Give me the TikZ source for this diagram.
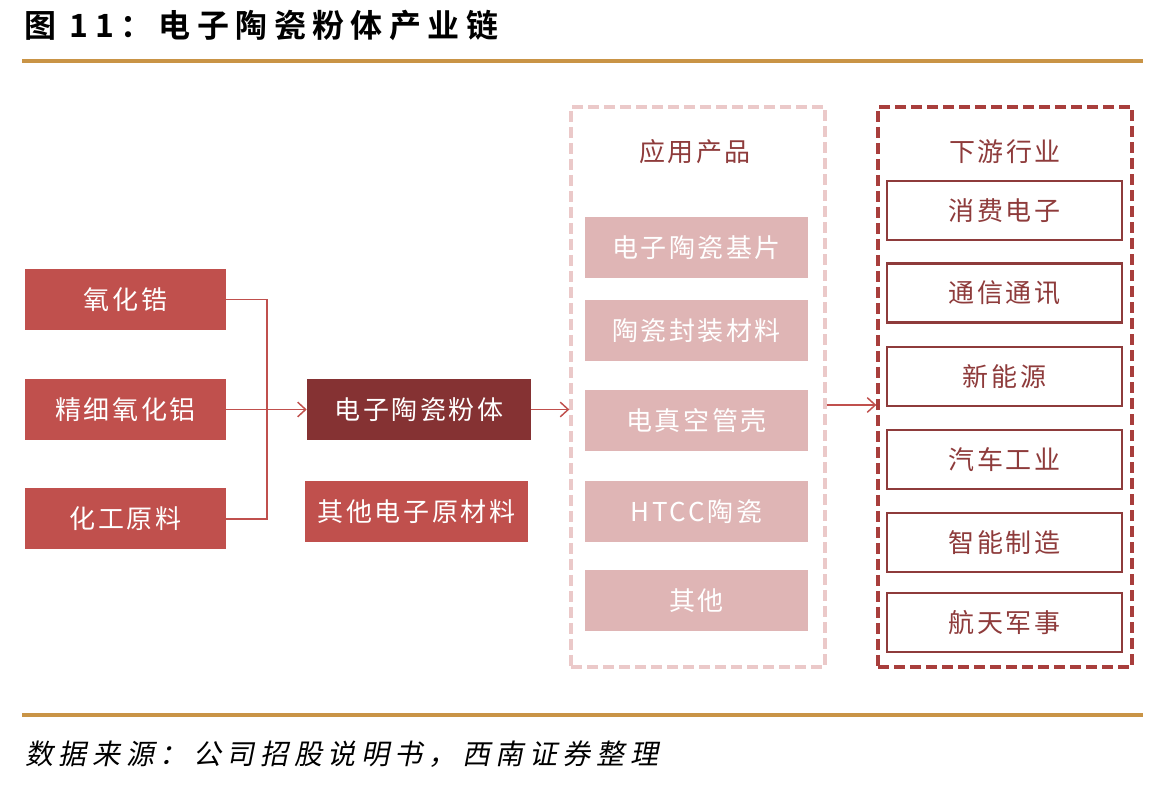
\documentclass[tikz,border=0pt]{standalone}
\usepackage{fontspec}
\usetikzlibrary{arrows.meta}
\setmainfont[LetterSpace=10]{Noto Sans CJK SC}
\newfontfamily\titlef[LetterSpace=20,BoldFont=* Bold]{Noto Sans CJK SC}
\newfontfamily\footf[LetterSpace=20,FakeSlant=0.2]{Noto Sans CJK SC}
\definecolor{gold}{RGB}{201,148,70}
\definecolor{rbox}{RGB}{192,80,77}
\definecolor{dbox}{RGB}{133,50,51}
\definecolor{pbox}{RGB}{223,181,181}
\definecolor{pdash}{RGB}{235,201,201}
\definecolor{rdash}{RGB}{168,62,60}
\definecolor{rtext}{RGB}{142,59,59}
\tikzset{
  x=0.75pt, y=-0.75pt,
  boxtxt/.style={font=\fontsize{19.5}{22}\selectfont},
  redbox/.style={boxtxt, fill=rbox, text=white, inner sep=0pt, minimum width=150.75pt, minimum height=45.75pt},
  darkbox/.style={boxtxt, fill=dbox, text=white, inner sep=0pt, minimum height=45.75pt},
  pinkbox/.style={boxtxt, fill=pbox, text=white, inner sep=0pt, minimum width=167.25pt, minimum height=45.75pt},
  outbox/.style={boxtxt, draw=rtext, line width=1.7pt, fill=white, text=rtext, inner sep=0pt, minimum width=176.25pt, minimum height=44.25pt},
  lightcont/.style={draw=pdash, line width=2.5pt, dash pattern=on 8pt off 4pt, inner sep=0pt, minimum width=190.5pt, minimum height=420pt},
  darkcont/.style={draw=rdash, line width=2.5pt, dash pattern=on 8pt off 4pt, inner sep=0pt, minimum width=190.5pt, minimum height=420pt},
  head/.style={boxtxt, text=rtext},
  conn/.style={draw=rbox, line width=1.2pt},
  arr/.style={conn, -{Straight Barb[length=6pt,width=11pt,line width=1.1pt]}},
  rule/.style={draw=gold, line width=2.4pt}
}
\begin{document}
\begin{tikzpicture}
\useasboundingbox (0,0) rectangle (1172,787);
% title and rules
\node[anchor=base west, inner sep=0pt, font=\titlef\bfseries\fontsize{24}{28}\selectfont] (title) at (24,38) {图 11：电子陶瓷粉体产业链};
\coordinate (r1a) at (22,61); \coordinate (r1b) at (1143,61);
\coordinate (r2a) at (22,715); \coordinate (r2b) at (1143,715);
\draw[rule] (r1a) -- (r1b);
\draw[rule] (r2a) -- (r2b);
\node[anchor=base west, inner sep=0pt, font=\footf\fontsize{21}{24}\selectfont] (foot) at (25,764) {数据来源：公司招股说明书，西南证券整理};

% left raw materials
\node[redbox] (zr) at (125.5,299.5) {氧化锆};
\node[redbox] (al) at (125.5,409.5) {精细氧化铝};
\node[redbox] (chem) at (125.5,519) {化工原料};
\node[darkbox, minimum width=168pt] (powder) at (419,409.5) {电子陶瓷粉体};
\node[redbox, minimum width=167.25pt] (other) at (416.5,511.5) {其他电子原材料};
\coordinate (j) at (267,409.5);
\draw[conn] (zr.east) -| (j);
\draw[conn] (chem.east) -| (j);
\draw[conn] (al.east) -- (j);
\draw[arr] (j) -- (powder.west);

% middle container
\node[lightcont] (mid) at (698,387) {};
\node[head] (midh) at (695,152) {应用产品};
\node[pinkbox] (p1) at (696.5,247.5) {电子陶瓷基片};
\node[pinkbox] (p2) at (696.5,330.5) {陶瓷封装材料};
\node[pinkbox] (p3) at (696.5,420.5) {电真空管壳};
\node[pinkbox] (p4) at (696.5,511.5) {HTCC陶瓷};
\node[pinkbox] (p5) at (696.5,600.5) {其他};
\draw[arr] (powder.east) -- (powder.east -| mid.west);

% right container
\node[darkcont] (down) at (1005,387) {};
\node[head] (downh) at (1005,152) {下游行业};
\node[outbox] (d1) at (1004.5,210.5) {消费电子};
\node[outbox] (d2) at (1004.5,293) {通信通讯};
\node[outbox] (d3) at (1004.5,376.5) {新能源};
\node[outbox] (d4) at (1004.5,459.5) {汽车工业};
\node[outbox] (d5) at (1004.5,542.5) {智能制造};
\node[outbox] (d6) at (1004.5,622.5) {航天军事};
\coordinate (ry) at (0,405);
\draw[arr] (mid.east |- ry) -- (down.west |- ry);
\end{tikzpicture}
\end{document}
